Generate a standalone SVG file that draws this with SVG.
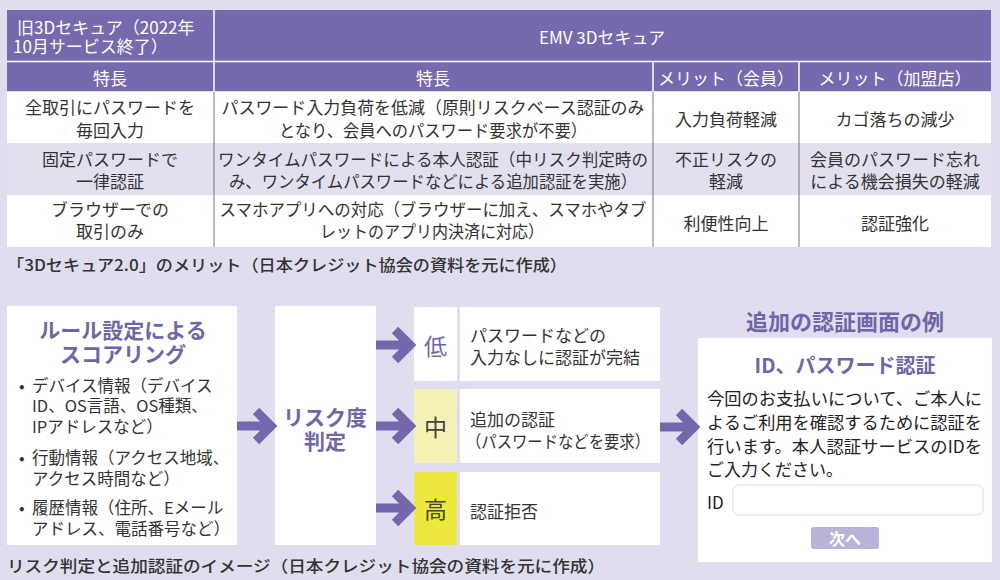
<svg xmlns="http://www.w3.org/2000/svg" width="1000" height="580" viewBox="0 0 1000 580">
<defs>
<style>
text{font-family:"Noto Sans CJK JP","Noto Sans",sans-serif;dominant-baseline:central}
.hd{fill:#ffffff;font-size:17px}
.bd{fill:#333333;font-size:17px;text-anchor:middle}
.cap{fill:#333333;font-size:16px;font-weight:500}
.pt{fill:#7165aa;font-weight:bold}
.lt{fill:#333333;font-size:16.5px}
.box{fill:#ffffff}
.wl{stroke:#ffffff;stroke-width:1.5}
.gl{stroke:#777777;stroke-width:1}
</style>
<path id="arr" d="M0,0 H32 M19,-15 L34,0 L19,15" fill="none" stroke="#7567ad" stroke-width="9" stroke-linejoin="miter" stroke-miterlimit="10"/>
</defs>
<rect x="0" y="0" width="1000" height="580" fill="#dfddee"/>

<g id="table">
<rect x="7" y="10" width="984" height="81" fill="#7769ae"/>
<rect x="7" y="92" width="984" height="51" fill="#ffffff"/>
<rect x="7" y="143" width="984" height="52" fill="#e2e0ef"/>
<rect x="7" y="195" width="984" height="52" fill="#ffffff"/>
<line class="wl" x1="7" y1="61.5" x2="991" y2="61.5"/>
<line class="wl" x1="214" y1="10" x2="214" y2="91"/>
<line class="wl" x1="653" y1="61.5" x2="653" y2="91"/>
<line class="wl" x1="799" y1="61.5" x2="799" y2="91"/>
<line class="gl" x1="214" y1="92" x2="214" y2="247"/>
<line class="gl" x1="653" y1="92" x2="653" y2="247"/>
<line class="gl" x1="799" y1="92" x2="799" y2="247"/>
<text class="hd" x="17" y="26">旧3Dセキュア（2022年</text>
<text class="hd" x="13" y="45">10月サービス終了）</text>
<text class="hd" x="602" y="36" text-anchor="middle">EMV 3Dセキュア</text>
<text class="hd" x="110" y="77" text-anchor="middle">特長</text>
<text class="hd" x="433" y="77" text-anchor="middle">特長</text>
<text class="hd" x="726" y="77" text-anchor="middle">メリット（会員）</text>
<text class="hd" x="895" y="77" text-anchor="middle">メリット（加盟店）</text>

<text class="bd" x="110" y="106">全取引にパスワードを</text>
<text class="bd" x="110" y="129">毎回入力</text>
<text class="bd" x="433" y="106" textLength="423" lengthAdjust="spacingAndGlyphs">パスワード入力負荷を低減（原則リスクベース認証のみ</text>
<text class="bd" x="433" y="129" textLength="308" lengthAdjust="spacingAndGlyphs">となり、会員へのパスワード要求が不要）</text>
<text class="bd" x="726" y="118">入力負荷軽減</text>
<text class="bd" x="895" y="118">カゴ落ちの減少</text>

<text class="bd" x="110" y="158">固定パスワードで</text>
<text class="bd" x="110" y="180">一律認証</text>
<text class="bd" x="433" y="158" textLength="430" lengthAdjust="spacingAndGlyphs">ワンタイムパスワードによる本人認証（中リスク判定時の</text>
<text class="bd" x="433" y="180" textLength="408" lengthAdjust="spacingAndGlyphs">み、ワンタイムパスワードなどによる追加認証を実施）</text>
<text class="bd" x="726" y="158">不正リスクの</text>
<text class="bd" x="726" y="180">軽減</text>
<text class="bd" x="895" y="158">会員のパスワード忘れ</text>
<text class="bd" x="895" y="180">による機会損失の軽減</text>

<text class="bd" x="110" y="208">ブラウザーでの</text>
<text class="bd" x="110" y="230">取引のみ</text>
<text class="bd" x="433" y="208" textLength="427" lengthAdjust="spacingAndGlyphs">スマホアプリへの対応（ブラウザーに加え、スマホやタブ</text>
<text class="bd" x="432" y="230" textLength="224" lengthAdjust="spacingAndGlyphs">レットのアプリ内決済に対応）</text>
<text class="bd" x="726" y="222">利便性向上</text>
<text class="bd" x="895" y="222">認証強化</text>
</g>

<text class="cap" x="7" y="264" textLength="560" lengthAdjust="spacingAndGlyphs">「3Dセキュア2.0」のメリット（日本クレジット協会の資料を元に作成）</text>

<g id="scoring">
<rect class="box" x="7" y="306" width="230" height="239"/>
<text class="pt" x="123" y="329" font-size="21" text-anchor="middle">ルール設定による</text>
<text class="pt" x="123" y="353" font-size="21" text-anchor="middle">スコアリング</text>
<text class="lt" x="19" y="385">•</text>
<text class="lt" x="32" y="385">デバイス情報（デバイス</text>
<text class="lt" x="32" y="405">ID、OS言語、OS種類、</text>
<text class="lt" x="32" y="426">IPアドレスなど）</text>
<text class="lt" x="19" y="457">•</text>
<text class="lt" x="32" y="457">行動情報（アクセス地域、</text>
<text class="lt" x="32" y="478">アクセス時間など）</text>
<text class="lt" x="19" y="507">•</text>
<text class="lt" x="32" y="507">履歴情報（住所、Eメール</text>
<text class="lt" x="32" y="528">アドレス、電話番号など）</text>
</g>

<g id="risk">
<rect class="box" x="275" y="306" width="101" height="239"/>
<text class="pt" x="325" y="416" font-size="21" text-anchor="middle">リスク度</text>
<text class="pt" x="325" y="440" font-size="21" text-anchor="middle">判定</text>
</g>

<g id="low">
<rect x="414" y="307" width="43" height="74" fill="#ffffff"/>
<rect x="460" y="307" width="200" height="74" fill="#ffffff"/>
<text x="435.5" y="345" font-size="23" fill="#7165aa" text-anchor="middle">低</text>
<text x="470" y="334" font-size="17" fill="#333333">パスワードなどの</text>
<text x="470" y="356" font-size="17" fill="#333333">入力なしに認証が完結</text>
</g>

<g id="mid">
<rect x="414" y="389" width="43" height="74" fill="#f4f2b5"/>
<rect x="460" y="389" width="200" height="74" fill="#ffffff"/>
<text x="435.5" y="426" font-size="23" fill="#444444" text-anchor="middle">中</text>
<text x="470" y="418" font-size="17" fill="#333333">追加の認証</text>
<text x="466" y="440" font-size="17" fill="#333333" textLength="184" lengthAdjust="spacingAndGlyphs">（パスワードなどを要求）</text>
</g>

<g id="high">
<rect x="414" y="472" width="43" height="73" fill="#ece83e"/>
<rect x="460" y="472" width="200" height="73" fill="#ffffff"/>
<text x="435.5" y="508" font-size="23" fill="#444444" text-anchor="middle">高</text>
<text x="470" y="510" font-size="17" fill="#333333">認証拒否</text>
</g>

<g id="auth-screen">
<text class="pt" x="845" y="320" font-size="22" text-anchor="middle">追加の認証画面の例</text>
<rect class="box" x="698" y="338" width="294" height="224"/>
<text x="845" y="364" font-size="20" font-weight="bold" fill="#7165aa" text-anchor="middle">ID、パスワード認証</text>
<text x="707" y="397" font-size="17" fill="#222222" textLength="275" lengthAdjust="spacingAndGlyphs">今回のお支払いについて、ご本人に</text>
<text x="707" y="421" font-size="17" fill="#222222" textLength="275" lengthAdjust="spacingAndGlyphs">よるご利用を確認するために認証を</text>
<text x="707" y="445" font-size="17" fill="#222222" textLength="275" lengthAdjust="spacingAndGlyphs">行います。本人認証サービスのIDを</text>
<text x="707" y="468" font-size="17" fill="#222222">ご入力ください。</text>
<text x="707" y="501" font-size="17" fill="#222222">ID</text>
<rect x="733" y="485" width="250" height="30" rx="6" fill="#ffffff" stroke="#dddad6" stroke-width="1"/>
<rect x="811" y="527" width="68" height="22" rx="3" fill="#b9b3d9"/>
<text x="845" y="538" font-size="16" font-weight="bold" fill="#ffffff" text-anchor="middle">次へ</text>
</g>

<g id="connectors">
<use href="#arr" transform="translate(237,426)"/>
<use href="#arr" transform="translate(376,345)"/>
<use href="#arr" transform="translate(376,426)"/>
<use href="#arr" transform="translate(376,508)"/>
<use href="#arr" transform="translate(660,427)"/>
</g>

<text class="cap" x="7" y="565" textLength="598" lengthAdjust="spacingAndGlyphs">リスク判定と追加認証のイメージ（日本クレジット協会の資料を元に作成）</text>
</svg>
